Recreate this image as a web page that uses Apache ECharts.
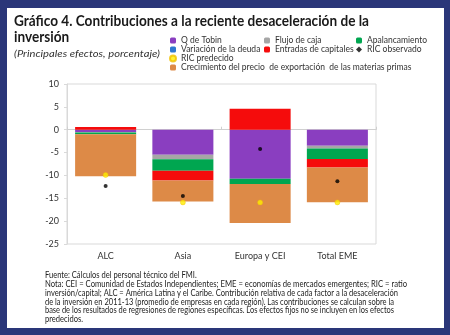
<!DOCTYPE html>
<html>
<head>
<meta charset="utf-8">
<script src="https://cdn.jsdelivr.net/npm/echarts@6/dist/echarts.min.js"></script>
<style>
  html, body { margin: 0; padding: 0; background: #2a3679; }
  #panel { position: absolute; left: 7px; top: 8px; width: 437px; height: 320px; background: #ffffff; }
  #chart { position: absolute; left: 0; top: 0; width: 450px; height: 335px; }
</style>
</head>
<body>
<div id="panel"></div>
<div id="chart"></div>
<script>
// ---------- data ----------
const categories = ['ALC', 'Asia', 'Europa y CEI', 'Total EME'];
const qTobin      = [-0.5, -5.5, -10.7, -3.5];
const flujoCaja   = [-0.1, -0.95, 0, -0.6];
const apalanc     = [-0.4, -2.55, -1.2, -2.3];
const variacion   = [0, 0, 0, 0];
const entradas    = [0.6, -2.1, 4.6, -1.85];
const materias    = [-9.2, -4.6, -8.5, -7.6];
const ricObservado = [-12.3, -14.5, -4.2, -11.3];
const ricPredecido = [-9.9, -15.9, -15.9, -15.9];
const yMin = -25, yMax = 10, yStep = 5;

const titleLines = ['Gráfico 4. Contribuciones a la reciente desaceleración de la', 'inversión'];
const subtitle = '(Principales efectos, porcentaje)';
const noteLines = [
  'Fuente: Cálculos del personal técnico del FMI.',
  'Nota: CEI = Comunidad de Estados Independientes; EME = economías de mercados emergentes; RIC = ratio',
  'inversión/capital; ALC = América Latina y el Caribe. Contribución relativa de cada factor a la desaceleración',
  'de la inversión en 2011-13 (promedio de empresas en cada región). Las contribuciones se calculan sobre la',
  'base de los resultados de regresiones de regiones específicas. Los efectos fijos no se incluyen en los efectos',
  'predecidos.'
];

// ---------- helpers ----------
const mctx = document.createElement('canvas').getContext('2d');
function measure(text, font) { mctx.font = font; return mctx.measureText(text).width; }
function textEl(text, x, y, font, fill, scaleX) {
  return { type: 'text', x: x, y: y, scaleX: scaleX, z: 10,
    style: { text: text, font: font, fill: fill, verticalAlign: 'middle', align: 'left' } };
}

const titleFont = '700 14.5px Lato';
const subFont = 'italic 400 10px Lato';
const noteFont = '400 8.5px Lato';
const graphics = [];
const tScale = 355 / measure(titleLines[0], titleFont);
graphics.push(textEl(titleLines[0], 14, 21, titleFont, '#1a1a1a', tScale));
graphics.push(textEl(titleLines[1], 14, 37.5, titleFont, '#1a1a1a', tScale));
graphics.push(textEl(subtitle, 14, 54, subFont, '#333333', 146 / measure(subtitle, subFont)));
const noteTargets = [null, 362, 353, 349, 349, null];
const noteYs = [275.5, 284.3, 293.1, 301.9, 310.7, 319.5];
let avg = 0, cnt = 0;
noteLines.forEach((t, i) => { if (noteTargets[i]) { avg += noteTargets[i] / measure(t, noteFont); cnt++; } });
avg /= cnt;
noteLines.forEach((t, i) => {
  const s = noteTargets[i] ? noteTargets[i] / measure(t, noteFont) : avg;
  graphics.push(textEl(t, 45, noteYs[i], noteFont, '#222222', s));
});

const colors = {
  q: '#8a3ec0', f: '#a6a6a6', a: '#00a650', v: '#2f78d0', e: '#f50c0c', m: '#dd8a47'
};
function barSeries(name, data, color) {
  return { name: name, type: 'bar', stack: 'total', data: data, barWidth: '79%',
    itemStyle: { color: color }, emphasis: { disabled: true } };
}
const series = [
  barSeries('Q de Tobin', qTobin, colors.q),
  barSeries('Flujo de caja', flujoCaja, colors.f),
  barSeries('Apalancamiento', apalanc, colors.a),
  barSeries('Variación de la deuda', variacion, colors.v),
  barSeries('Entradas de capitales', entradas, colors.e),
  barSeries('Crecimiento del precio  de exportación  de las materias primas', materias, colors.m),
  { name: 'RIC observado', type: 'scatter', data: ricObservado, symbol: 'circle', symbolSize: 4,
    itemStyle: { color: '#000000' }, z: 5 },
  { name: 'RIC predecido', type: 'scatter', data: ricPredecido, symbol: 'circle', symbolSize: 5,
    itemStyle: { color: '#ffee00', borderColor: '#f0c000', borderWidth: 0.5 }, z: 5 }
];

const legendText = { fontSize: 8.5, color: '#333333', fontFamily: 'Lato', lineHeight: 9 };
const legendBase = { orient: 'vertical', top: 36, itemGap: 0, itemWidth: 6, itemHeight: 6,
  textStyle: legendText, padding: 0, selectedMode: false };

const option = {
  animation: false,
  textStyle: { fontFamily: 'Lato' },
  graphic: graphics,
  legend: [
    Object.assign({}, legendBase, { left: 169, data: ['Q de Tobin', 'Variación de la deuda',
      { name: 'RIC predecido', icon: 'circle' }, 'Crecimiento del precio  de exportación  de las materias primas'] }),
    Object.assign({}, legendBase, { left: 264, data: ['Flujo de caja', 'Entradas de capitales'] }),
    Object.assign({}, legendBase, { left: 356, data: ['Apalancamiento', { name: 'RIC observado', icon: 'diamond' }] })
  ],
  grid: { left: 67, right: 74, top: 84, bottom: 91, show: true, borderColor: '#d9d9d9', borderWidth: 1,
    containLabel: false },
  xAxis: [{
    type: 'category', data: categories, position: 'bottom',
    axisLine: { show: false, onZero: false },
    axisTick: { show: false },
    axisLabel: { fontSize: 9, color: '#333333', margin: 8, fontFamily: 'Lato' }
  }, {
    type: 'category', data: categories, position: 'top',
    axisLine: { show: true, onZero: true, lineStyle: { color: '#d0d0d0' } },
    axisTick: { show: true, inside: false, length: 3, lineStyle: { color: '#d0d0d0' } },
    axisLabel: { show: false }
  }],
  yAxis: {
    type: 'value', min: yMin, max: yMax, interval: yStep,
    axisLine: { show: true, lineStyle: { color: '#d9d9d9' } },
    axisTick: { show: true, length: 3, lineStyle: { color: '#d9d9d9' } },
    splitLine: { show: false },
    axisLabel: { fontSize: 9, color: '#333333', margin: 8, fontFamily: 'Lato' }
  },
  series: series
};
const chart = echarts.init(document.getElementById('chart'), null, { renderer: 'canvas' });
chart.setOption(option);
</script>
</body>
</html>
